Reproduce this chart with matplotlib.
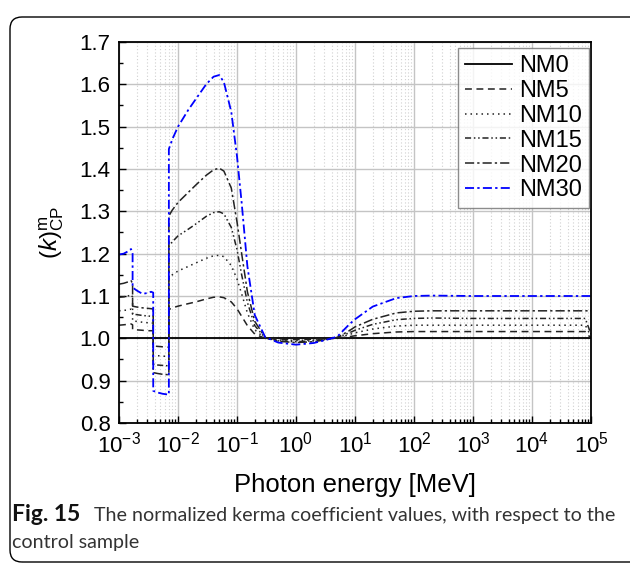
import matplotlib
matplotlib.use("Agg")
import matplotlib.pyplot as plt
from matplotlib.patches import FancyBboxPatch
from matplotlib.ticker import LogLocator, MultipleLocator, FormatStrFormatter, NullFormatter

plt.rcParams['font.family'] = ['Liberation Sans', 'DejaVu Sans']
plt.rcParams['mathtext.fontset'] = 'custom'
plt.rcParams['mathtext.rm'] = 'Liberation Sans'
plt.rcParams['mathtext.it'] = 'Liberation Sans:italic'
plt.rcParams['mathtext.bf'] = 'Liberation Sans:bold'

# Photon energy grid (MeV); repeated values mark absorption edges
energy = [1.0e-3, 1.2e-3, 1.4e-3, 1.6e-3, 1.7e-3, 1.7e-3, 2.0e-3, 2.5e-3, 3.0e-3, 3.5e-3,
          3.8e-3, 3.8e-3, 4.5e-3, 5.5e-3, 7.0e-3, 7.0e-3, 8.0e-3, 1.0e-2, 1.5e-2, 2.0e-2,
          3.0e-2, 4.0e-2, 5.0e-2, 6.0e-2, 8.0e-2, 0.1, 0.12, 0.15, 0.2, 0.3,
          0.5, 1.0, 2.0, 3.0, 5.0, 8.0, 10, 20, 50, 100,
          200, 1e3, 1e4, 5e4, 8e4, 1e5]

nm0 = [1.0] * 46

nm5 = [1.031, 1.032, 1.033, 1.034, 1.032, 1.021, 1.020, 1.019, 1.018, 1.018,
       1.018, 0.982, 0.981, 0.980, 0.979, 1.068, 1.072, 1.076, 1.082, 1.086,
       1.093, 1.097, 1.098, 1.096, 1.086, 1.070, 1.052, 1.030, 1.010, 1.000,
       0.998, 0.997, 0.998, 0.999, 1.000, 1.004, 1.006, 1.011, 1.015, 1.016,
       1.016, 1.016, 1.016, 1.016, 1.016, 1.000]

nm10 = [1.065, 1.066, 1.067, 1.069, 1.066, 1.041, 1.040, 1.038, 1.037, 1.036,
        1.036, 0.960, 0.959, 0.958, 0.957, 1.143, 1.150, 1.159, 1.170, 1.178,
        1.189, 1.195, 1.196, 1.193, 1.172, 1.140, 1.105, 1.060, 1.020, 1.000,
        0.996, 0.995, 0.996, 0.998, 1.001, 1.009, 1.013, 1.022, 1.029, 1.031,
        1.031, 1.031, 1.031, 1.031, 1.031, 1.005]

nm15 = [1.097, 1.098, 1.100, 1.102, 1.098, 1.057, 1.056, 1.054, 1.053, 1.052,
        1.052, 0.939, 0.937, 0.936, 0.935, 1.218, 1.228, 1.242, 1.258, 1.270,
        1.288, 1.297, 1.299, 1.294, 1.262, 1.210, 1.150, 1.085, 1.030, 1.001,
        0.994, 0.992, 0.994, 0.997, 1.002, 1.013, 1.019, 1.033, 1.044, 1.047,
        1.048, 1.047, 1.047, 1.047, 1.047, 1.010]

nm20 = [1.128, 1.130, 1.133, 1.136, 1.130, 1.076, 1.074, 1.072, 1.071, 1.070,
        1.069, 0.919, 0.917, 0.915, 0.914, 1.289, 1.303, 1.321, 1.345, 1.362,
        1.385, 1.398, 1.402, 1.395, 1.355, 1.275, 1.200, 1.110, 1.040, 1.002,
        0.993, 0.990, 0.992, 0.996, 1.002, 1.018, 1.027, 1.045, 1.060, 1.064,
        1.065, 1.065, 1.065, 1.065, 1.065, 1.065]

nm30 = [1.198, 1.200, 1.205, 1.211, 1.200, 1.120, 1.113, 1.105, 1.107, 1.110,
        1.108, 0.876, 0.872, 0.869, 0.867, 1.447, 1.470, 1.500, 1.540, 1.565,
        1.600, 1.618, 1.622, 1.605, 1.535, 1.430, 1.320, 1.170, 1.055, 1.003,
        0.990, 0.985, 0.989, 0.995, 1.004, 1.033, 1.045, 1.075, 1.095, 1.100,
        1.101, 1.100, 1.100, 1.100, 1.100, 1.100]

series_labels = ['NM0', 'NM5', 'NM10', 'NM15', 'NM20', 'NM30']
y_ticks = [0.8, 0.9, 1.0, 1.1, 1.2, 1.3, 1.4, 1.5, 1.6, 1.7]

fig = plt.figure(figsize=(6.30, 5.63), dpi=100)
ax = fig.add_axes([119/630, 1 - 423/563, (591 - 119)/630, (423 - 42)/563])

styles = [
    dict(color='black', lw=1.3, ls='-'),
    dict(color='#222222', lw=1.1, ls=(0, (4.5, 3))),
    dict(color='#222222', lw=1.1, ls=(0, (1, 2.6))),
    dict(color='#222222', lw=1.1, ls=(0, (4, 1.8, 1, 1.8, 1, 1.8))),
    dict(color='#222222', lw=1.1, ls=(0, (6, 2, 1.5, 2))),
    dict(color='#0000ff', lw=1.3, ls=(0, (5, 1.8, 1.3, 1.8))),
]
for vals, lab, st in zip([nm0, nm5, nm10, nm15, nm20, nm30], series_labels, styles):
    ax.plot(energy, vals, label=lab, **st)

ax.set_xscale('log')
ax.set_xlim(1e-3, 1e5)
ax.set_ylim(0.8, 1.7)
ax.set_yticks(y_ticks)
ax.yaxis.set_major_formatter(FormatStrFormatter('%.1f'))
ax.yaxis.set_minor_locator(MultipleLocator(0.05))
ax.xaxis.set_major_locator(LogLocator(base=10, numticks=20))
ax.xaxis.set_minor_locator(LogLocator(base=10, subs=range(2, 10), numticks=100))
ax.xaxis.set_minor_formatter(NullFormatter())

ax.grid(True, which='major', color='#c4c4c4', lw=1.0, ls='-')
ax.grid(True, which='minor', axis='x', color='#d0d0d0', lw=0.8, ls=(0, (1, 2)))
ax.set_axisbelow(True)

ax.tick_params(which='both', direction='in', top=False, right=False, labelsize=16,
               width=1.0, color='black')
ax.tick_params(which='major', length=5, pad=6)
ax.tick_params(which='minor', length=3)
for sp in ax.spines.values():
    sp.set_linewidth(1.3)

ax.set_xlabel('Photon energy [MeV]', fontsize=18.5, labelpad=11)
ax.set_ylabel(r'$(\mathit{k})^{\mathrm{m}}_{\mathrm{CP}}$', fontsize=17.5, labelpad=10)

leg = ax.legend(loc='upper right', fontsize=17, frameon=True, fancybox=False,
                edgecolor='#707070', handlelength=2.0, handletextpad=0.3,
                borderpad=0.3, labelspacing=0.12, borderaxespad=0,
                bbox_to_anchor=(0.996, 0.984))
leg.get_frame().set_linewidth(1.0)

cap_family = ['Lato', 'DejaVu Sans']
fig.text(12/630, 1 - 521/563, 'Fig. 15', fontsize=16.5, fontweight='bold',
         family=cap_family, va='baseline', color='#111111')
fig.text(94/630, 1 - 521/563, 'The normalized kerma coefficient values, with respect to the',
         fontsize=14.1, family=cap_family, va='baseline', color='#333333')
fig.text(12/630, 1 - 548/563, 'control sample',
         fontsize=14.1, family=cap_family, va='baseline', color='#333333')

frame = FancyBboxPatch((10, 1), 640, 545, boxstyle='round,pad=0,rounding_size=12',
                       transform=None, facecolor='none', edgecolor='black', lw=1.0)
fig.patches.append(frame)

fig.savefig('out.png', dpi=100)
